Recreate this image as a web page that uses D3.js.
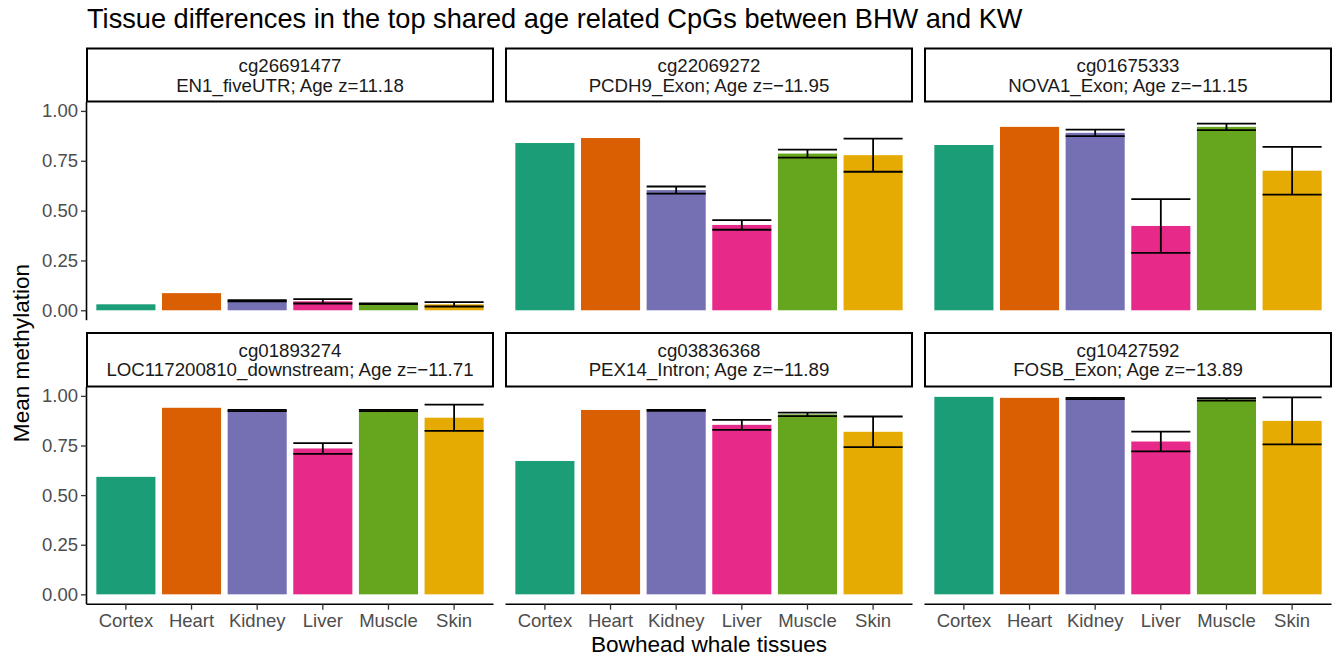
<!DOCTYPE html>
<html>
<head>
<meta charset="utf-8">
<script src="https://cdn.jsdelivr.net/npm/d3@7"></script>
<style>
  html, body { margin: 0; padding: 0; background: #fff; }
  svg { display: block; font-family: "Liberation Sans", Arial, Helvetica, sans-serif; }
</style>
</head>
<body>
<svg id="chart" width="1335" height="657"></svg>
<script>
// Tissues on the x axis (shared by all facets)
const tissues = ["Cortex", "Heart", "Kidney", "Liver", "Muscle", "Skin"];
const tissueColors = ["#1B9E77", "#D95F02", "#7570B3", "#E7298A", "#66A61E", "#E6AB02"];

// Facet headers: CpG probe and annotation with age z-score
const probes = ["cg26691477", "cg22069272", "cg01675333", "cg01893274", "cg03836368", "cg10427592"];
const annotations = [
  "EN1_fiveUTR; Age z=11.18",
  "PCDH9_Exon; Age z=\u221211.95",
  "NOVA1_Exon; Age z=\u221211.15",
  "LOC117200810_downstream; Age z=\u221211.71",
  "PEX14_Intron; Age z=\u221211.89",
  "FOSB_Exon; Age z=\u221213.89"
];

// Mean methylation per tissue for each probe
const meanCg26691477 = [0.030, 0.086, 0.048, 0.045, 0.033, 0.030];
const meanCg22069272 = [0.839, 0.864, 0.603, 0.428, 0.786, 0.778];
const meanCg01675333 = [0.829, 0.920, 0.890, 0.423, 0.920, 0.700];
const meanCg01893274 = [0.592, 0.940, 0.926, 0.735, 0.926, 0.890];
const meanCg03836368 = [0.672, 0.929, 0.927, 0.854, 0.907, 0.819];
const meanCg10427592 = [0.995, 0.990, 0.987, 0.770, 0.982, 0.874];

// Standard errors (NaN where a tissue has a single sample)
const seCg26691477 = [NaN, NaN, 0.003, 0.011, 0.002, 0.011];
const seCg22069272 = [NaN, NaN, 0.018, 0.024, 0.020, 0.083];
const seCg01675333 = [NaN, NaN, 0.016, 0.135, 0.016, 0.120];
const seCg01893274 = [NaN, NaN, 0.003, 0.027, 0.003, 0.066];
const seCg03836368 = [NaN, NaN, 0.002, 0.025, 0.009, 0.077];
const seCg10427592 = [NaN, NaN, 0.003, 0.050, 0.006, 0.118];

const yTicks = [0, 0.25, 0.5, 0.75, 1.0];

const means = [meanCg26691477, meanCg22069272, meanCg01675333, meanCg01893274, meanCg03836368, meanCg10427592];
const ses = [seCg26691477, seCg22069272, seCg01675333, seCg01893274, seCg03836368, seCg10427592];

const facets = probes.map((p, i) => ({
  probe: p,
  label: annotations[i],
  rows: tissues.map((t, j) => ({
    tissue: t,
    color: tissueColors[j],
    mean: means[i][j],
    se: ses[i][j]
  }))
}));

// Layout
const svg = d3.select("#chart");
const colX = [86.5, 505.5, 924.5];
const panelW = 407;
const rowGeom = [
  { stripTop: 48.5, stripBottom: 101.5, top: 102, bottom: 320.2 },
  { stripTop: 333, stripBottom: 386.5, top: 387, bottom: 604.2 }
];
const tickFont = 18.5;
const stripFont = 18.7;

// Shared y range: 0 to the largest upper error limit, with 5% padding
const yMax = d3.max(facets.flatMap(f => f.rows.map(r => r.mean + (isNaN(r.se) ? 0 : r.se))));
const yPad = 0.05 * yMax;

const x = d3.scaleBand()
  .domain(tissues)
  .range([0, panelW])
  .paddingInner(0.1)
  .paddingOuter(0.15);

// Title
svg.append("text")
  .attr("x", 87).attr("y", 28)
  .attr("font-size", 27.2)
  .attr("fill", "#000")
  .text("Tissue differences in the top shared age related CpGs between BHW and KW");

facets.forEach((f, i) => {
  const row = Math.floor(i / 3), col = i % 3;
  const rg = rowGeom[row];
  const x0 = colX[col];
  const y = d3.scaleLinear().domain([-yPad, yMax + yPad]).range([rg.bottom, rg.top]);
  const g = svg.append("g").attr("transform", `translate(${x0},0)`);

  // Bars
  g.selectAll("rect.bar").data(f.rows).enter().append("rect")
    .attr("class", "bar")
    .attr("x", d => x(d.tissue))
    .attr("width", x.bandwidth())
    .attr("y", d => y(d.mean))
    .attr("height", d => y(0) - y(d.mean))
    .attr("fill", d => d.color);

  // Error bars
  const eb = g.selectAll("g.err").data(f.rows.filter(d => !isNaN(d.se))).enter().append("g")
    .attr("class", "err")
    .attr("stroke", "#000")
    .attr("stroke-width", 1.8)
    .attr("fill", "none");
  eb.append("line")
    .attr("x1", d => x(d.tissue) + x.bandwidth() / 2)
    .attr("x2", d => x(d.tissue) + x.bandwidth() / 2)
    .attr("y1", d => y(d.mean + d.se))
    .attr("y2", d => y(d.mean - d.se));
  eb.append("line")
    .attr("x1", d => x(d.tissue)).attr("x2", d => x(d.tissue) + x.bandwidth())
    .attr("y1", d => y(d.mean + d.se)).attr("y2", d => y(d.mean + d.se));
  eb.append("line")
    .attr("x1", d => x(d.tissue)).attr("x2", d => x(d.tissue) + x.bandwidth())
    .attr("y1", d => y(d.mean - d.se)).attr("y2", d => y(d.mean - d.se));

  // Y axis on the left column only
  if (col === 0) {
    const ya = g.append("g")
      .call(d3.axisLeft(y).tickValues(yTicks).tickFormat(d3.format(".2f")).tickSizeOuter(0).tickSize(5.5).tickPadding(3));
    ya.select(".domain").attr("stroke", "#000").attr("stroke-width", 1.6)
      .attr("d", `M0,${rg.top}V${rg.bottom}`);
    ya.selectAll(".tick line").attr("stroke", "#333").attr("stroke-width", 1.3);
    ya.selectAll(".tick text").attr("fill", "#4D4D4D").attr("font-size", tickFont)
      .attr("font-family", "Liberation Sans, Arial, sans-serif");
  }

  // X axis on the bottom row only
  if (row === 1) {
    const xa = g.append("g").attr("transform", `translate(0,${rg.bottom})`)
      .call(d3.axisBottom(x).tickSizeOuter(0).tickSize(5.5).tickPadding(4));
    xa.select(".domain").attr("stroke", "#000").attr("stroke-width", 1.6)
      .attr("d", `M0,0H${panelW}`);
    xa.selectAll(".tick line").attr("stroke", "#333").attr("stroke-width", 1.3);
    xa.selectAll(".tick text").attr("fill", "#4D4D4D").attr("font-size", tickFont)
      .attr("font-family", "Liberation Sans, Arial, sans-serif");
  }

  // Strip header
  g.append("rect")
    .attr("x", 0.5).attr("y", rg.stripTop)
    .attr("width", panelW - 1).attr("height", rg.stripBottom - rg.stripTop)
    .attr("fill", "#fff").attr("stroke", "#000").attr("stroke-width", 2);
  const mid = (rg.stripTop + rg.stripBottom) / 2;
  g.append("text")
    .attr("x", panelW / 2).attr("y", mid - 3)
    .attr("text-anchor", "middle").attr("font-size", stripFont).attr("fill", "#1A1A1A")
    .text(f.probe);
  g.append("text")
    .attr("x", panelW / 2).attr("y", mid + 16.5)
    .attr("text-anchor", "middle").attr("font-size", stripFont).attr("fill", "#1A1A1A")
    .text(f.label);
});

// Axis titles
svg.append("text")
  .attr("x", 709).attr("y", 652)
  .attr("text-anchor", "middle").attr("font-size", 22.6).attr("fill", "#000")
  .text("Bowhead whale tissues");
svg.append("text")
  .attr("transform", "translate(29,353) rotate(-90)")
  .attr("text-anchor", "middle").attr("font-size", 22.6).attr("fill", "#000")
  .text("Mean methylation");
</script>
</body>
</html>
